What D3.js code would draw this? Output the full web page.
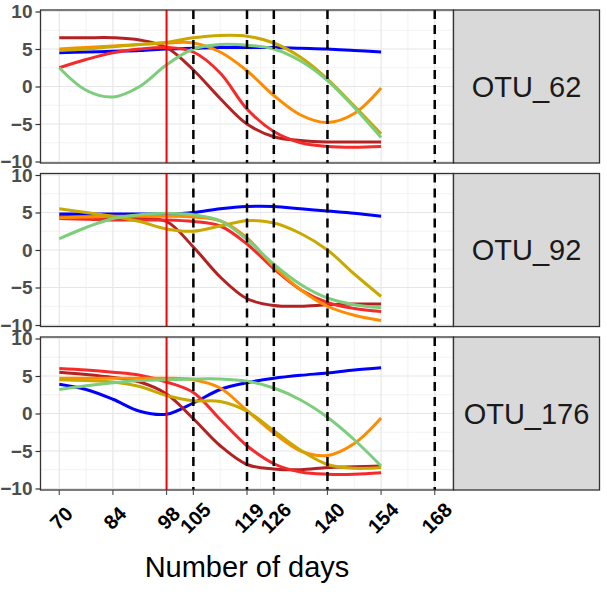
<!DOCTYPE html>
<html>
<head>
<meta charset="utf-8">
<script src="https://cdn.jsdelivr.net/npm/d3@7"></script>
<style>
	body { margin: 0; background: #fff; }
	text { font-family: 'Liberation Sans', Arial, sans-serif; }
</style>
</head>
<body>
<div id="chart"><svg width="607" height="592"></svg></div>
<script>
var days = [70, 77, 84, 91, 98, 105, 112, 119, 126, 133, 140, 147, 154];
var tickDays = [70, 84, 98, 105, 119, 126, 140, 154, 168];
var dashedDays = [105, 119, 126, 140, 168];
var markerDay = 98;
var yTicks = [-10, -5, 0, 5, 10];
var otus = ['OTU_62', 'OTU_92', 'OTU_176'];
var seriesKeys = ['blue', 'darkred', 'red', 'orange', 'gold', 'green'];

// one row per series, in seriesKeys order
var otu62 = [
	[4.5, 4.6, 4.7, 4.8, 5.0, 5.1, 5.2, 5.2, 5.2, 5.1, 5.0, 4.8, 4.6],
	[6.5, 6.5, 6.5, 6.2, 5.2, 2.2, -1.6, -5.0, -6.7, -7.2, -7.4, -7.4, -7.4],
	[2.5, 3.6, 4.5, 5.0, 5.2, 4.6, 1.8, -3.0, -6.0, -7.5, -8.0, -8.1, -8.0],
	[5.0, 5.2, 5.4, 5.6, 5.8, 5.8, 4.6, 2.1, -1.2, -3.8, -4.8, -3.6, -0.2],
	[4.8, 5.0, 5.3, 5.6, 5.9, 6.5, 6.8, 6.7, 5.8, 3.9, 1.0, -2.6, -6.3],
	[2.5, -0.5, -1.4, 0.0, 2.9, 5.0, 5.6, 5.5, 5.0, 3.4, 0.8, -2.8, -6.8]
];
var otu92 = [
	[4.8, 4.8, 4.8, 4.8, 4.8, 5.0, 5.5, 5.8, 5.8, 5.5, 5.2, 4.9, 4.5],
	[4.5, 4.4, 4.3, 4.2, 3.8, 0.4, -3.6, -6.5, -7.4, -7.5, -7.3, -7.2, -7.2],
	[4.2, 4.1, 4.0, 4.0, 4.0, 3.8, 3.2, 0.8, -2.5, -5.3, -7.0, -7.8, -8.2],
	[4.3, 4.4, 4.5, 4.5, 4.5, 4.4, 3.9, 1.6, -2.2, -5.3, -7.5, -8.7, -9.4],
	[5.5, 5.0, 4.5, 3.8, 2.8, 2.5, 3.2, 3.9, 3.6, 2.2, 0.0, -3.2, -6.2],
	[1.5, 3.0, 4.2, 4.7, 4.9, 4.7, 3.9, 1.4, -1.9, -4.6, -6.4, -7.3, -7.7]
];
var otu176 = [
	[3.9, 3.2, 1.9, 0.3, -0.1, 1.4, 3.2, 4.1, 4.7, 5.1, 5.4, 5.8, 6.1],
	[5.5, 5.2, 4.8, 4.2, 2.6, -0.7, -4.3, -6.8, -7.4, -7.5, -7.2, -7.1, -7.0],
	[6.0, 5.8, 5.5, 5.1, 4.2, 2.8, -0.8, -4.3, -6.7, -7.8, -8.1, -8.1, -7.9],
	[4.7, 4.7, 4.7, 4.7, 4.7, 4.5, 3.4, 0.4, -2.6, -5.0, -5.6, -4.0, -0.6],
	[4.5, 4.4, 4.2, 3.6, 2.4, 1.7, 1.6, 0.3, -2.3, -4.9, -6.8, -7.3, -7.2],
	[3.2, 3.7, 4.1, 4.4, 4.5, 4.6, 4.6, 4.3, 3.4, 1.8, -0.5, -3.5, -7.0]
];
var panelData = [otu62, otu92, otu176];

const Facets = {
	left: 40.5,
	panelWidth: 413,
	stripWidth: 146,
	panelTops: [10, 173.5, 337],
	panelHeight: 153,
	colors: ['#0000ff', '#b22222', '#f52a2a', '#ff8c00', '#c9a800', '#7ccd7c'],

	draw: function() {
		const self = this;
		var svg = d3.select('#chart > svg');

		// ggplot style 5% expansion on x
		var xScale = d3.scaleLinear()
			.domain([ 70 - 4.9, 168 + 4.9 ])
			.range([ 0, self.panelWidth ]);
		var yScale = d3.scaleLinear()
			.domain([ -10.2, 10.2 ])
			.range([ self.panelHeight, 0 ]);
		var color = d3.scaleOrdinal()
			.domain(seriesKeys)
			.range(self.colors);

		var line = d3.line()
			.x(function(d) { return xScale(d[0]) })
			.y(function(d) { return yScale(d[1]) })
			.curve(d3.curveCatmullRom.alpha(0.5));

		var minorX = d3.pairs(tickDays).map(function(p) { return (p[0] + p[1]) / 2 });
		var minorY = d3.pairs(yTicks).map(function(p) { return (p[0] + p[1]) / 2 });

		otus.forEach(function(otu, i) {
			var g = svg.append('g')
				.attr('transform', 'translate(' + [ self.left, self.panelTops[i] ] + ')');

			// grids
			g.selectAll('.minor.x').data(minorX).enter().append('line')
				.attr('x1', function(d) { return xScale(d) })
				.attr('x2', function(d) { return xScale(d) })
				.attr('y1', 0).attr('y2', self.panelHeight)
				.attr('stroke', '#f2f2f2').attr('stroke-width', 1);
			g.selectAll('.minor.y').data(minorY).enter().append('line')
				.attr('x1', 0).attr('x2', self.panelWidth)
				.attr('y1', function(d) { return yScale(d) })
				.attr('y2', function(d) { return yScale(d) })
				.attr('stroke', '#f2f2f2').attr('stroke-width', 1);
			g.selectAll('.major.x').data(tickDays).enter().append('line')
				.attr('x1', function(d) { return xScale(d) })
				.attr('x2', function(d) { return xScale(d) })
				.attr('y1', 0).attr('y2', self.panelHeight)
				.attr('stroke', '#e6e6e6').attr('stroke-width', 1.2);
			g.selectAll('.major.y').data(yTicks).enter().append('line')
				.attr('x1', 0).attr('x2', self.panelWidth)
				.attr('y1', function(d) { return yScale(d) })
				.attr('y2', function(d) { return yScale(d) })
				.attr('stroke', '#e6e6e6').attr('stroke-width', 1.2);

			// smoothed curves
			g.selectAll('path.series')
				.data(panelData[i])
				.enter()
				.append('path')
				.attr('class', 'series')
				.attr('d', function(vals) { return line(days.map(function(d, j) { return [ d, vals[j] ] })) })
				.attr('fill', 'none')
				.attr('stroke', function(vals, j) { return color(seriesKeys[j]) })
				.attr('stroke-width', 3)
				.attr('stroke-linejoin', 'round');

			// reference lines
			g.append('line')
				.attr('x1', xScale(markerDay)).attr('x2', xScale(markerDay))
				.attr('y1', 0).attr('y2', self.panelHeight)
				.attr('stroke', '#ff0000').attr('stroke-width', 2);
			g.selectAll('.dash').data(dashedDays).enter().append('line')
				.attr('x1', function(d) { return xScale(d) })
				.attr('x2', function(d) { return xScale(d) })
				.attr('y1', 0).attr('y2', self.panelHeight)
				.attr('stroke', '#000').attr('stroke-width', 2.5)
				.attr('stroke-dasharray', '9,6');

			// y axis
			var yAxis = g.append('g')
				.call(d3.axisLeft(yScale).tickValues(yTicks).tickSize(5).tickPadding(3));
			yAxis.select('.domain').remove();
			yAxis.selectAll('line').attr('stroke', '#333').attr('stroke-width', 1.2);
			yAxis.selectAll('text')
				.attr('fill', '#4d4d4d')
				.style('font-size', '19px')
				.style('font-weight', 'bold')
				.style('font-family', "'Liberation Sans', Arial, sans-serif");

			// panel border and strip
			g.append('rect')
				.attr('width', self.panelWidth).attr('height', self.panelHeight)
				.attr('fill', 'none').attr('stroke', '#333').attr('stroke-width', 1.3);
			g.append('rect')
				.attr('x', self.panelWidth).attr('width', self.stripWidth)
				.attr('height', self.panelHeight)
				.attr('fill', '#d9d9d9').attr('stroke', '#333').attr('stroke-width', 1.3);
			g.append('text')
				.attr('x', self.panelWidth + self.stripWidth / 2)
				.attr('y', self.panelHeight / 2)
				.attr('text-anchor', 'middle')
				.attr('dominant-baseline', 'central')
				.attr('fill', '#1a1a1a')
				.style('font-size', '29px')
				.text(otu);
		});

		// x axis under the last panel
		var bottom = self.panelTops[2] + self.panelHeight;
		var xg = svg.append('g')
			.attr('transform', 'translate(' + [ self.left, bottom ] + ')');
		xg.selectAll('line.tick').data(tickDays).enter().append('line')
			.attr('x1', function(d) { return xScale(d) })
			.attr('x2', function(d) { return xScale(d) })
			.attr('y1', 0).attr('y2', 5)
			.attr('stroke', '#555').attr('stroke-width', 1.2);
		xg.selectAll('text.tick').data(tickDays).enter().append('text')
			.attr('transform', function(d) { return 'translate(' + [ xScale(d) + 2, 28 ] + ') rotate(-45)' })
			.attr('text-anchor', 'middle')
			.attr('dominant-baseline', 'central')
			.attr('fill', '#000')
			.style('font-size', '20px')
			.style('font-weight', 'bold')
			.text(function(d) { return d });

		svg.append('text')
			.attr('x', self.left + self.panelWidth / 2)
			.attr('y', 577)
			.attr('text-anchor', 'middle')
			.attr('fill', '#000')
			.style('font-size', '29px')
			.text('Number of days');
	}
}

Facets.draw();
</script>
</body>
</html>
